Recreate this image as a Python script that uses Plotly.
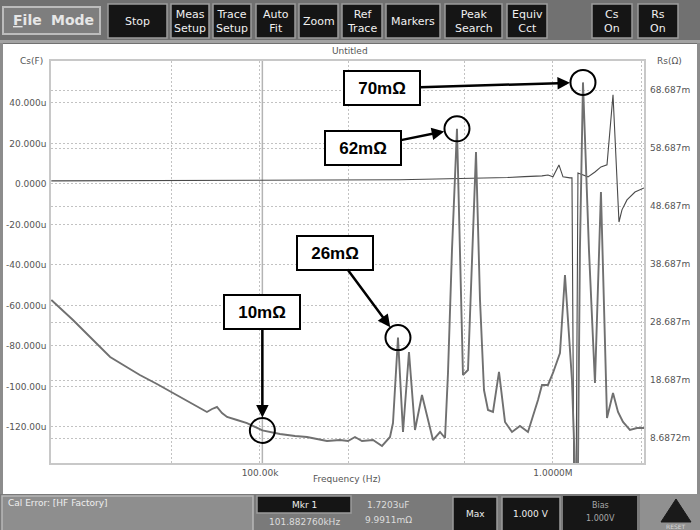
import math
import plotly.graph_objects as go

# ---------------------------------------------------------------------------
# Sweep data (frequency in kHz)
# ---------------------------------------------------------------------------
rs_freq_khz = [19.4, 21.1, 23.0, 26.3, 30.8, 34.6, 38.9, 44.5, 50.5, 57.7,
               65.9, 68.6, 71.3, 74.2, 77.2, 83.5, 90.3, 101.88276, 108.2, 117.0,
               131.7, 144.7, 156.5, 169.3, 187.5, 199.7, 211.0, 222.9, 243.1, 260.9,
               277.8, 284.4, 295.8, 307.7, 322.5, 338.1, 357.2, 374.5, 389.4, 411.6,
               428.1, 438.2, 452.2, 470.3, 481.5, 493.0, 512.8, 529.1, 546.1, 563.6,
               581.5, 600.1, 624.1, 654.3, 685.9, 724.7, 771.6, 821.6, 854.6, 888.9,
               917.3, 961.4, 1000.0, 1056.6, 1099.0, 1134.0, 1161.0, 1189.0, 1217.0, 1236.0,
               1266.0, 1327.0, 1391.0, 1458.0, 1529.0, 1603.0, 1667.0, 1734.0, 1831.0, 1935.0,
               2045.0]
# Series resistance, mOhm
rs_mohm = [32.48, 30.76, 29.03, 26.10, 22.65, 21.10, 19.55, 18.00, 16.45, 14.72,
           13.17, 13.69, 14.03, 13.00, 12.31, 11.79, 11.27, 9.9911, 9.72, 9.38,
           9.03, 8.86, 8.51, 8.17, 8.34, 8.17, 8.86, 8.17, 8.34, 7.31,
           8.86, 11.27, 26.0, 9.72, 23.52, 10.07, 16.10, 11.79, 8.34, 9.72,
           8.69, 19.90, 41.10, 62.0, 41.10, 19.55, 20.41, 39.38, 58.0, 32.48,
           16.96, 13.52, 13.17, 20.07, 11.45, 9.72, 10.76, 9.72, 12.31, 15.24,
           17.83, 17.83, 19.90, 23.34, 36.79, 25.59, 18.69, 3.0, 3.0, 41.10,
           70.0, 41.10, 18.17, 51.10, 12.13, 16.45, 13.17, 11.45, 10.07, 10.41,
           10.41]

cs_freq_khz = [19.4, 50.5, 101.88276, 200.0, 300.0, 400.0, 500.0, 600.0, 700.0, 800.0,
               888.9, 917.3, 961.4, 1000.0, 1048.0, 1082.0, 1143.0, 1161.0, 1180.0, 1198.0,
               1217.0, 1317.0, 1391.0, 1458.0, 1529.0, 1603.0, 1680.0, 1720.0, 1789.0, 1905.0,
               2045.0]
# Series capacitance, uF
cs_uf = [1.5, 1.6, 1.7203, 1.9, 2.1, 2.4, 2.6, 2.8, 3.2, 3.6,
         3.8, 4.0, 4.4, 3.5, 9.4, 3.5, 3.0, 3.0, -160.0, -160.0,
         5.4, 3.5, 5.9, 8.4, 9.4, 44.0, -18.8, -12.8, -7.9, -4.0,
         -2.0]

cs_tick_vals = [40, 20, 0, -20, -40, -60, -80, -100, -120]
cs_tick_text = ["40.000u", "20.000u", "0.0000", "-20.000u", "-40.000u",
                "-60.000u", "-80.000u", "-100.00u", "-120.00u"]
rs_tick_vals = [68.687, 58.687, 48.687, 38.687, 28.687, 18.687, 8.6872]
rs_tick_text = ["68.687m", "58.687m", "48.687m", "38.687m", "28.687m", "18.687m", "8.6872m"]
freq_grid_hz = [50e3, 100e3, 200e3, 500e3, 1e6, 2e6]
freq_tick_text = ["", "100.00k", "", "", "1.0000M", ""]

marker_freq_khz = 101.88276
callout_freq_khz = [101.88276, 295.8, 470.3, 1266.0]
callout_offset = [(0, -118), (-63, -85), (-94, 19), (-201, 6)]

buttons = [("Stop", 108, 167), ("Meas<br>Setup", 171, 209), ("Trace<br>Setup", 213, 251),
           ("Auto<br>Fit", 256, 295), ("Zoom", 299, 338), ("Ref<br>Trace", 342, 382),
           ("Markers", 386, 440), ("Peak<br>Search", 445, 502), ("Equiv<br>Cct", 507, 547),
           ("Cs<br>On", 592, 632), ("Rs<br>On", 638, 678)]

# ---------------------------------------------------------------------------
W, H = 700, 530
ML, MR, MT, MB = 51, 56, 61, 67
PW, PH = W - ML - MR, H - MT - MB


def px(x):
    return (x - ML) / PW


def py(y):
    return (H - MB - y) / PH


UI_FONT = "DejaVu Sans"
rs_freq = [f * 1e3 for f in rs_freq_khz]
cs_freq = [f * 1e3 for f in cs_freq_khz]

fig = go.Figure()
fig.add_trace(go.Scatter(x=rs_freq, y=rs_mohm, yaxis="y2", mode="lines",
                         line=dict(color="#707070", width=1.9), hoverinfo="skip"))
fig.add_trace(go.Scatter(x=cs_freq, y=cs_uf, mode="lines",
                         line=dict(color="#4a4a4a", width=1.1), hoverinfo="skip"))

shapes = []
annotations = []

# marker 1 line
shapes.append(dict(type="line", xref="x", yref="paper", x0=marker_freq_khz * 1e3,
                   x1=marker_freq_khz * 1e3, y0=0, y1=1,
                   line=dict(color="#b4b4b4", width=1.5), layer="below"))

# callouts: ring around the point and a boxed label with an arrow
callout_vals = [rs_mohm[rs_freq_khz.index(f)] for f in callout_freq_khz]
fig.add_trace(go.Scatter(x=[f * 1e3 for f in callout_freq_khz], y=callout_vals,
                         yaxis="y2", mode="markers", hoverinfo="skip",
                         marker=dict(symbol="circle-open", size=25,
                                     color="black", line=dict(color="black", width=2))))
for f_k, v, (ax, ay) in zip(callout_freq_khz, callout_vals, callout_offset):
    annotations.append(dict(x=math.log10(f_k * 1e3), y=v, xref="x", yref="y2",
                            text="<b>%dmΩ</b>" % round(v), showarrow=True,
                            ax=ax, ay=ay, arrowhead=2, arrowsize=1, arrowwidth=2.5,
                            arrowcolor="black", standoff=13,
                            font=dict(family="Liberation Sans", size=17, color="black"),
                            bgcolor="white", bordercolor="black", borderwidth=2,
                            borderpad=5, width=64, height=22))

# axis captions
annotations += [
    dict(x=px(350), y=py(51), text="Untitled"),
    dict(x=px(31), y=py(61), text="Cs(F)"),
    dict(x=px(670), y=py(61), text="Rs(Ω)"),
    dict(x=px(347), y=py(479), text="Frequency (Hz)"),
]
for a in annotations[-4:]:
    a.update(xref="paper", yref="paper", showarrow=False, xanchor="center",
             yanchor="middle", font=dict(family=UI_FONT, size=9, color="#555555"))


def rect(x0, y0, x1, y1, fill, line=None, lw=0):
    shapes.append(dict(type="rect", xref="paper", yref="paper",
                       x0=px(x0), x1=px(x1), y0=py(y1), y1=py(y0),
                       fillcolor=fill, line=dict(color=line or fill, width=lw),
                       layer="above"))


def label(x, y, text, size=11, color="white", anchor="center", family=UI_FONT):
    annotations.append(dict(xref="paper", yref="paper", x=px(x), y=py(y), text=text,
                            showarrow=False, xanchor=anchor, yanchor="middle",
                            font=dict(family=family, size=size, color=color)))


# top toolbar
rect(0, 0, 700, 44, "#717171")
rect(0, 40, 700, 43, "#a3a3a3")
rect(3, 7, 100, 34, "#7e7e7e", "#bcbcbc", 2)
label(27, 20, "<b><u>F</u>ile</b>", size=14, color="#e6e6e6")
label(72, 20, "<b>Mode</b>", size=14, color="#e6e6e6")
for text, x0, x1 in buttons:
    rect(x0, 4, x1, 38, "#151515", "#9c9c9c", 1.5)
    label((x0 + x1) / 2, 21, text, size=11, color="#f0f0f0")

# side frame of the chart window
rect(0, 43, 3, 494, "#8c8c8c")
rect(697, 43, 700, 494, "#8c8c8c")

# bottom status bar
rect(0, 494, 700, 530, "#7a7a7a")
rect(2, 496, 253, 531, "#8e8e8e", "#b8b8b8", 1.5)
label(6, 503, "Cal Error: [HF Factory]", size=9, color="#eeeeee", anchor="left")
rect(257, 496, 351, 513, "#151515", "#9c9c9c", 1.5)
label(304, 504.5, "Mkr 1", size=9, color="#eeeeee")
label(304, 522, "101.882760kHz", size=9, color="#dddddd")
label(388, 505, "1.7203uF", size=9, color="#dddddd")
label(388, 520, "9.9911mΩ", size=9, color="#dddddd")
rect(453, 497, 497, 531, "#151515", "#9c9c9c", 1.5)
label(475, 514, "Max", size=9, color="#eeeeee")
rect(502, 497, 560, 531, "#151515", "#9c9c9c", 1.5)
label(531, 514, "1.000 V", size=9, color="#eeeeee")
rect(563, 496, 637, 531, "#161616")
label(600, 505, "Bias", size=8, color="#a8a8a8")
label(600, 518, "1.000V", size=8, color="#a8a8a8")
rect(640, 494, 700, 530, "#909090")
shapes.append(dict(type="path", xref="paper", yref="paper", layer="above",
                   path="M %f,%f L %f,%f L %f,%f Z" % (px(676), py(499), px(661), py(522),
                                                      px(691), py(522)),
                   fillcolor="#1a1a1a", line=dict(color="#1a1a1a", width=1)))
label(676, 526.5, "RESET", size=6, color="#d8d8d8")

grid = dict(showgrid=True, gridcolor="#c2c2c2", gridwidth=1, griddash="2px,2px",
            automargin=False)

fig.update_layout(
    width=W, height=H,
    margin=dict(l=ML, r=MR, t=MT, b=MB, pad=0, autoexpand=False),
    paper_bgcolor="white", plot_bgcolor="white",
    showlegend=False,
    font=dict(family=UI_FONT, size=9, color="#555555"),
    xaxis=dict(type="log", range=[math.log10(19.35e3), math.log10(2.045e6)],
               tickvals=freq_grid_hz, ticktext=freq_tick_text, ticks="",
               showline=True, mirror=True, linecolor="#c8c8c8", linewidth=1.5,
               zeroline=False, **grid),
    yaxis=dict(range=[-137.8, 60.7], tickvals=cs_tick_vals, ticktext=cs_tick_text,
               ticks="", showline=True, mirror=True, linecolor="#c8c8c8", linewidth=1.5,
               zeroline=False, ticklabelstandoff=1, **grid),
    yaxis2=dict(range=[4.377, 73.69], tickvals=rs_tick_vals, ticktext=rs_tick_text,
                overlaying="y", side="right", ticks="", zeroline=False,
                ticklabelstandoff=5, **grid),
    shapes=shapes,
    annotations=annotations,
)

fig.write_html("out.html")
